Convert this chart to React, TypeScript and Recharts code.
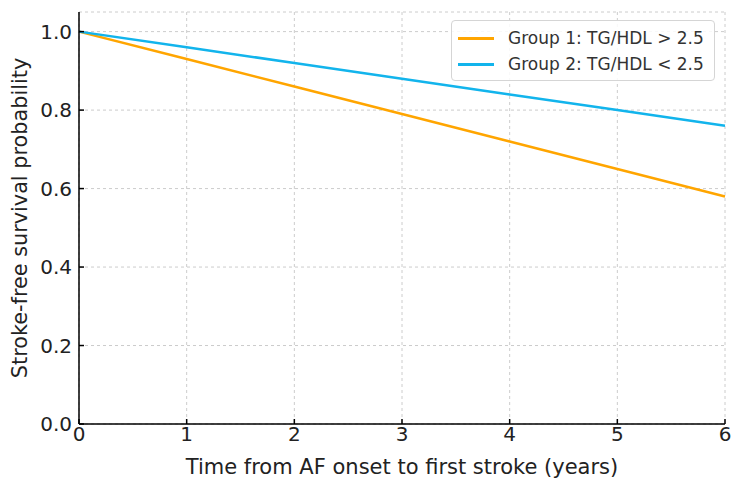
import { LineChart, Line, XAxis, YAxis, CartesianGrid } from 'recharts';

const years = [0, 1, 2, 3, 4, 5, 6];
const group1 = [1.0, 0.93, 0.86, 0.79, 0.72, 0.65, 0.58];
const group2 = [1.0, 0.96, 0.92, 0.88, 0.84, 0.8, 0.76];
const yTicks = [0, 0.2, 0.4, 0.6, 0.8, 1.0];

const series = [
  { key: 'g1', color: '#FFA500', name: 'Group 1: TG/HDL > 2.5' },
  { key: 'g2', color: '#12B4EC', name: 'Group 2: TG/HDL < 2.5' },
];

const data = years.map((t, i) => ({ t, g1: group1[i], g2: group2[i] }));

const font = 'DejaVu Sans, sans-serif';

const LegendBox = () => (
  <div
    style={{
      position: 'absolute',
      left: 451,
      top: 20,
      width: 264,
      height: 61,
      boxSizing: 'border-box',
      border: '1px solid #d5d5d5',
      borderRadius: 4,
      background: 'rgba(255,255,255,0.85)',
      padding: '4px 0 0 6px',
      fontFamily: font,
      fontSize: 17,
      color: '#333',
      lineHeight: '26px',
    }}
  >
    {series.map((s) => (
      <div key={s.key} style={{ display: 'flex', alignItems: 'center', whiteSpace: 'nowrap' }}>
        <span style={{ display: 'inline-block', width: 36, height: 3, background: s.color, marginRight: 14 }} />
        {s.name}
      </div>
    ))}
  </div>
);

const YLabel = ({ viewBox }: any) => {
  const cy = viewBox.y + viewBox.height / 2;
  return (
    <text
      x={20}
      y={cy}
      transform={`rotate(-90, 20, ${cy})`}
      textAnchor="middle"
      dominantBaseline="central"
      fill="#222"
      fontSize={20.8}
      fontFamily={font}
    >
      Stroke-free survival probability
    </text>
  );
};

const App = () => {
  return (
    <div style={{ position: 'absolute', left: 0, top: 0, width: 737, height: 486, background: '#fff' }}>
      <LineChart width={737} height={486} data={data} margin={{ top: 12, right: 12, left: 5, bottom: 12 }}>
        <CartesianGrid stroke="#cccccc" strokeDasharray="3 3" />
        <XAxis
          dataKey="t"
          type="number"
          domain={[0, 6]}
          ticks={years}
          stroke="#000"
          strokeWidth={1.5}
          tickSize={-5}
          tickMargin={8}
          tick={{ fill: '#222', fontSize: 20, fontFamily: font }}
          height={50}
          label={{ value: 'Time from AF onset to first stroke (years)', position: 'insideBottom', offset: 0, fill: '#222', fontSize: 21, fontFamily: font }}
        />
        <YAxis
          type="number"
          domain={[0, 1.05]}
          ticks={yTicks}
          stroke="#000"
          strokeWidth={1.5}
          tickSize={-5}
          tickMargin={12}
          width={74}
          tickFormatter={(v: number) => v.toFixed(1)}
          tick={{ fill: '#222', fontSize: 20, fontFamily: font }}
          label={<YLabel />}
        />
        {series.map((s) => (
          <Line
            key={s.key}
            type="linear"
            dataKey={s.key}
            stroke={s.color}
            strokeWidth={2.5}
            dot={false}
            name={s.name}
            isAnimationActive={false}
          />
        ))}
      </LineChart>
      <LegendBox />
    </div>
  );
};

export default App;
